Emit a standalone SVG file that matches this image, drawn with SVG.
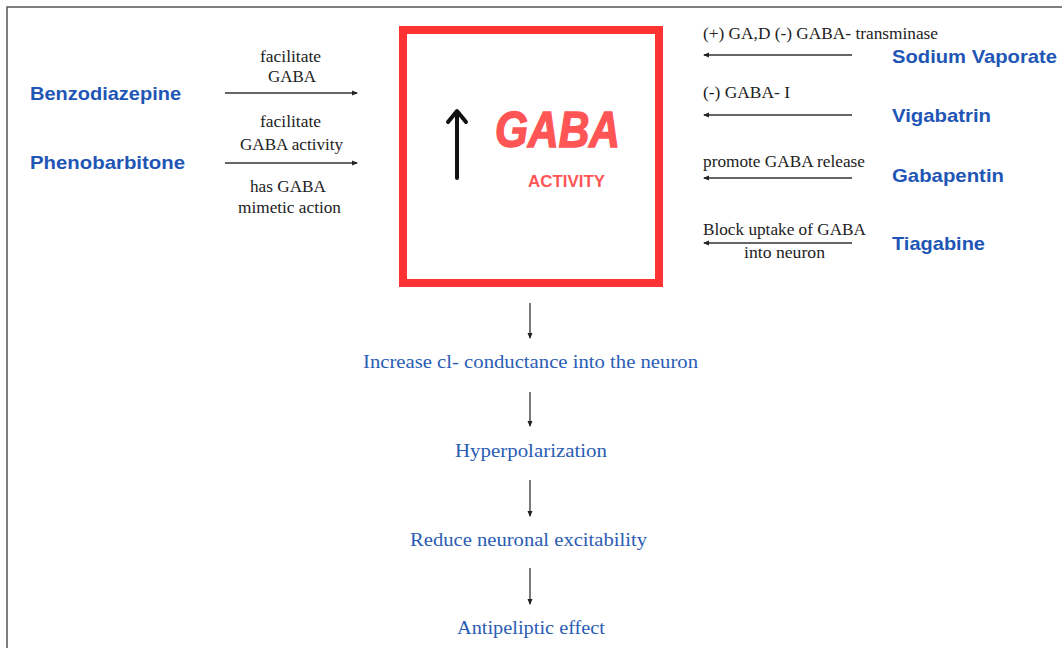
<svg xmlns="http://www.w3.org/2000/svg" width="1062" height="648" viewBox="0 0 1062 648">
<style>
.drug{font-family:"Liberation Sans",Arial,sans-serif;font-weight:bold;font-size:19px;fill:#1f56b5}
.lbl{font-family:"Liberation Serif","Times New Roman",serif;font-size:16.5px;fill:#222}
.step{font-family:"Liberation Serif","Times New Roman",serif;font-size:19.5px;fill:#2a5db5}
.conn{stroke:#333;stroke-width:1.3;fill:none}
</style>
<defs>
<marker id="ah" viewBox="0 0 6 6" refX="5" refY="3" markerWidth="6" markerHeight="6" markerUnits="userSpaceOnUse" orient="auto">
<path d="M0,0.5 L6,3 L0,5.5 Z" fill="#222"/>
</marker>
</defs>
<rect width="1062" height="648" fill="#fff"/>
<path d="M7,648 V7 H1062" stroke="#555" stroke-width="1.5" fill="none"/>

<g id="gaba-box">
<rect x="403" y="30" width="256" height="253" fill="#fff" stroke="#ff3333" stroke-width="8"/>
<line x1="457" y1="178" x2="457" y2="113" stroke="#111" stroke-width="4" stroke-linecap="round"/>
<path d="M448,122 L457,111 L466,122" stroke="#111" stroke-width="4" fill="none" stroke-linecap="round" stroke-linejoin="round"/>
<text x="495" y="147" textLength="125" lengthAdjust="spacingAndGlyphs" style="font-family:'Liberation Sans',Arial,sans-serif;font-weight:bold;font-style:italic;font-size:50px;fill:#ff5555;stroke:#ff5555;stroke-width:1.5">GABA</text>
<text x="528" y="187" textLength="77" lengthAdjust="spacingAndGlyphs" style="font-family:'Liberation Sans',Arial,sans-serif;font-weight:bold;font-size:17px;fill:#ff5555">ACTIVITY</text>
</g>

<g id="benzodiazepine"><text class="drug" x="30" y="100" textLength="151" lengthAdjust="spacingAndGlyphs">Benzodiazepine</text></g>
<g id="phenobarbitone"><text class="drug" x="30" y="169" textLength="155" lengthAdjust="spacingAndGlyphs">Phenobarbitone</text></g>
<g id="sodium-vaporate"><text class="drug" x="892" y="63" textLength="165" lengthAdjust="spacingAndGlyphs">Sodium Vaporate</text></g>
<g id="vigabatrin"><text class="drug" x="892" y="122" textLength="99" lengthAdjust="spacingAndGlyphs">Vigabatrin</text></g>
<g id="gabapentin"><text class="drug" x="892" y="182" textLength="112" lengthAdjust="spacingAndGlyphs">Gabapentin</text></g>
<g id="tiagabine"><text class="drug" x="892" y="250" textLength="93" lengthAdjust="spacingAndGlyphs">Tiagabine</text></g>

<g id="step-cl"><text class="step" x="363" y="368" textLength="335" lengthAdjust="spacingAndGlyphs">Increase cl- conductance into the neuron</text></g>
<g id="step-hyper"><text class="step" x="455" y="457" textLength="152" lengthAdjust="spacingAndGlyphs">Hyperpolarization</text></g>
<g id="step-reduce"><text class="step" x="410" y="546" textLength="237" lengthAdjust="spacingAndGlyphs">Reduce neuronal excitability</text></g>
<g id="step-effect"><text class="step" x="457" y="634" textLength="148" lengthAdjust="spacingAndGlyphs">Antipeliptic effect</text></g>

<g id="connectors">
<line class="conn" x1="225" y1="93" x2="357" y2="93" marker-end="url(#ah)"/>
<line class="conn" x1="225" y1="163" x2="357" y2="163" marker-end="url(#ah)"/>
<line class="conn" x1="852" y1="55" x2="704" y2="55" marker-end="url(#ah)"/>
<line class="conn" x1="852" y1="115" x2="704" y2="115" marker-end="url(#ah)"/>
<line class="conn" x1="852" y1="178" x2="704" y2="178" marker-end="url(#ah)"/>
<line class="conn" x1="852" y1="243" x2="704" y2="243" marker-end="url(#ah)"/>
<line class="conn" x1="530" y1="303" x2="530" y2="338" marker-end="url(#ah)"/>
<line class="conn" x1="530" y1="392" x2="530" y2="426" marker-end="url(#ah)"/>
<line class="conn" x1="530" y1="480" x2="530" y2="516" marker-end="url(#ah)"/>
<line class="conn" x1="530" y1="568" x2="530" y2="604" marker-end="url(#ah)"/>
<text class="lbl" x="260" y="62" textLength="61" lengthAdjust="spacingAndGlyphs">facilitate</text>
<text class="lbl" x="268" y="82" textLength="48" lengthAdjust="spacingAndGlyphs">GABA</text>
<text class="lbl" x="260" y="127" textLength="61" lengthAdjust="spacingAndGlyphs">facilitate</text>
<text class="lbl" x="240" y="150" textLength="103" lengthAdjust="spacingAndGlyphs">GABA activity</text>
<text class="lbl" x="250" y="192" textLength="76" lengthAdjust="spacingAndGlyphs">has GABA</text>
<text class="lbl" x="238" y="213" textLength="103" lengthAdjust="spacingAndGlyphs">mimetic action</text>
<text class="lbl" x="703" y="39" textLength="235" lengthAdjust="spacingAndGlyphs">(+) GA,D (-) GABA- transminase</text>
<text class="lbl" x="703" y="98" textLength="87" lengthAdjust="spacingAndGlyphs">(-) GABA- I</text>
<text class="lbl" x="703" y="167" textLength="162" lengthAdjust="spacingAndGlyphs">promote GABA release</text>
<text class="lbl" x="703" y="235" textLength="163" lengthAdjust="spacingAndGlyphs">Block uptake of GABA</text>
<text class="lbl" x="744" y="258" textLength="81" lengthAdjust="spacingAndGlyphs">into neuron</text>
</g>
</svg>
